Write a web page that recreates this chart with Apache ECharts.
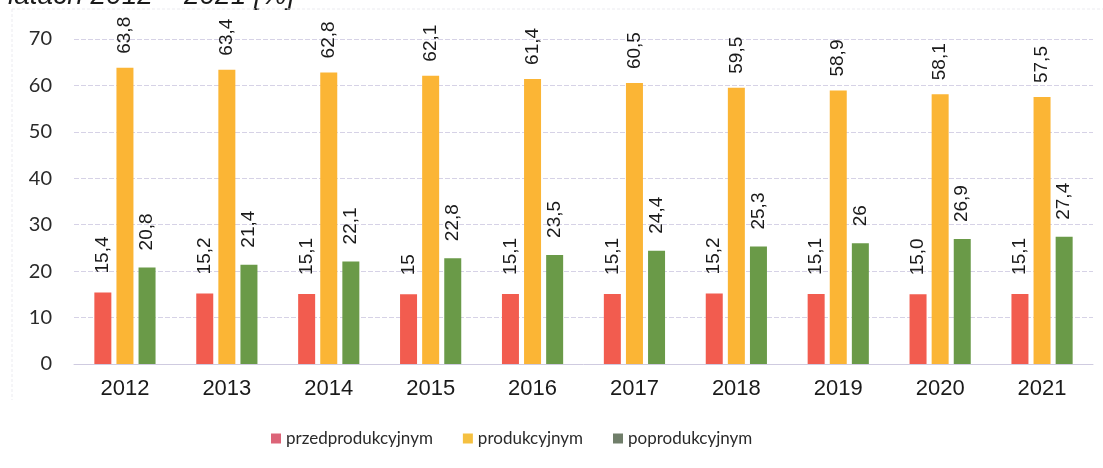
<!DOCTYPE html>
<html>
<head>
<meta charset="utf-8">
<script src="https://cdn.jsdelivr.net/npm/echarts@6/dist/echarts.min.js"></script>
<style>
  html, body { margin: 0; padding: 0; background: #fff; }
  #chart { width: 1103px; height: 468px; }
</style>
</head>
<body>
<div id="chart"></div>
<script>
// Population by economic age group, 2012-2021 [%]
const years = ['2012', '2013', '2014', '2015', '2016', '2017', '2018', '2019', '2020', '2021'];
const seriesNames = ['przedprodukcyjnym', 'produkcyjnym', 'poprodukcyjnym'];

const preWorking = [15.4, 15.2, 15.1, 15, 15.1, 15.1, 15.2, 15.1, 15.0, 15.1];
const working = [63.8, 63.4, 62.8, 62.1, 61.4, 60.5, 59.5, 58.9, 58.1, 57.5];
const postWorking = [20.8, 21.4, 22.1, 22.8, 23.5, 24.4, 25.3, 26, 26.9, 27.4];

// labels as printed in the source (decimal comma, some without decimals)
const preLabels = ['15,4', '15,2', '15,1', '15', '15,1', '15,1', '15,2', '15,1', '15,0', '15,1'];
const workLabels = ['63,8', '63,4', '62,8', '62,1', '61,4', '60,5', '59,5', '58,9', '58,1', '57,5'];
const postLabels = ['20,8', '21,4', '22,1', '22,8', '23,5', '24,4', '25,3', '26', '26,9', '27,4'];

const barColors = ['#f25c4f', '#fbb535', '#6a9a48'];
const legendColors = ['#dc6478', '#f5c040', '#707e6a'];
const labelGaps = [19, 14, 17];

const chart = echarts.init(document.getElementById('chart'), null, { renderer: 'canvas' });

function makeSeries(i, values, labels) {
  return {
    name: seriesNames[i],
    type: 'bar',
    data: values,
    barWidth: 17,
    barGap: '30%',
    itemStyle: { color: barColors[i] },
    label: {
      show: true,
      position: 'top',
      rotate: 90,
      align: 'left',
      verticalAlign: 'middle',
      distance: labelGaps[i],
      color: '#1a1a1a',
      fontFamily: 'Liberation Sans, Arial, sans-serif',
      fontSize: 19,
      formatter: (p) => labels[p.dataIndex]
    }
  };
}

chart.setOption({
  animation: false,
  backgroundColor: '#ffffff',
  grid: { left: 74, right: 10, top: 39, bottom: 104 },
  legend: {
    left: 266,
    top: 425,
    itemWidth: 10,
    itemHeight: 10,
    itemGap: 30,
    icon: 'rect',
    textStyle: { color: '#2a2a2a', fontFamily: 'Lato, sans-serif', fontSize: 17 },
    data: seriesNames.map((n, i) => ({ name: n, itemStyle: { color: legendColors[i] } }))
  },
  xAxis: {
    type: 'category',
    data: years,
    axisTick: { show: false },
    axisLine: { lineStyle: { color: '#cfcbe0' } },
    axisLabel: {
      color: '#1a1a1a',
      fontFamily: 'Liberation Sans, Arial, sans-serif',
      fontSize: 22,
      margin: 14
    }
  },
  yAxis: {
    type: 'value',
    min: 0,
    max: 70,
    interval: 10,
    axisLine: { show: false },
    axisTick: { show: false },
    axisLabel: {
      color: '#2a2a2a',
      fontFamily: 'Lato, sans-serif',
      fontSize: 20,
      margin: 22
    },
    splitLine: { lineStyle: { color: '#d6d2e6', type: [5, 2] } }
  },
  graphic: [
    {
      type: 'text',
      left: -20,
      top: -18,
      style: {
        text: 'w latach 2012 – 2021 [%]',
        font: 'italic 28px "Liberation Sans", Arial, sans-serif',
        fill: '#1a1a1a'
      }
    },
    {
      type: 'line',
      shape: { x1: 12, y1: 9, x2: 1103, y2: 9 },
      style: { stroke: '#ebebf0', lineWidth: 1, lineDash: [3, 2] }
    },
    {
      type: 'line',
      shape: { x1: 12, y1: 9, x2: 12, y2: 400 },
      style: { stroke: '#ebebf0', lineWidth: 1, lineDash: [3, 2] }
    }
  ],
  series: [
    makeSeries(0, preWorking, preLabels),
    makeSeries(1, working, workLabels),
    makeSeries(2, postWorking, postLabels)
  ]
});
</script>
</body>
</html>
